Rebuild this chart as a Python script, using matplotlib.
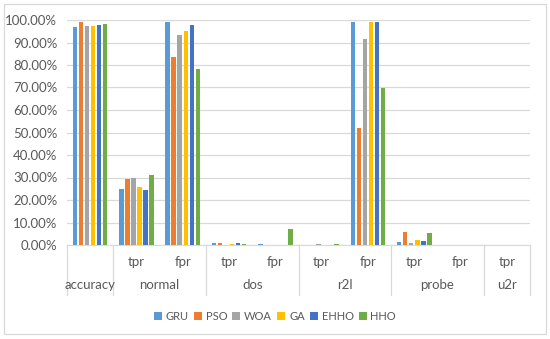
#!/usr/bin/env python3
# -*- coding: utf-8 -*-
"""Grouped bar chart of detection rates per attack class and optimiser."""

from matplotlib import pyplot as plt
from matplotlib.patches import Rectangle
from matplotlib.ticker import PercentFormatter
import numpy as np

# x cells: (sub label, group label)
sub_labels = ['', 'tpr', 'fpr', 'tpr', 'fpr', 'tpr', 'fpr', 'tpr', 'fpr', 'tpr']
groups = ['accuracy', 'normal', 'dos', 'r2l', 'probe', 'u2r']
group_spans = [(0, 0), (1, 2), (3, 4), (5, 6), (7, 8), (9, 9)]

series = ['GRU', 'PSO', 'WOA', 'GA', 'EHHO', 'HHO']
colors = ['#5B9BD5', '#ED7D31', '#A5A5A5', '#FFC000', '#4472C4', '#70AD47']

gru = [0.967, 0.249, 0.991, 0.007, 0.003, 0.000, 0.993, 0.015, 0.0, 0.0]
pso = [0.991, 0.293, 0.834, 0.007, 0.000, 0.000, 0.521, 0.056, 0.0, 0.0]
woa = [0.973, 0.298, 0.933, 0.000, 0.000, 0.003, 0.914, 0.010, 0.0, 0.0]
ga = [0.973, 0.258, 0.953, 0.006, 0.000, 0.000, 0.993, 0.022, 0.0, 0.0]
ehho = [0.978, 0.243, 0.976, 0.008, 0.000, 0.000, 0.993, 0.018, 0.0, 0.0]
hho = [0.982, 0.310, 0.781, 0.003, 0.070, 0.003, 0.696, 0.053, 0.0, 0.0]
values = [gru, pso, woa, ga, ehho, hho]


def main():
    plt.rcParams['font.family'] = ['Lato', 'DejaVu Sans']
    fig = plt.figure(figsize=(5.5, 3.39), dpi=100)
    ax = fig.add_axes([67 / 550, 1 - 245 / 339, 463 / 550, 225 / 339])

    x = np.arange(len(sub_labels))
    pitch = 0.13
    width = 0.097
    for i, (name, vals) in enumerate(zip(series, values)):
        ax.bar(x + (i - 2.5) * pitch, vals, width, color=colors[i],
               label=name, zorder=3)

    ax.set_xlim(-0.5, len(sub_labels) - 0.5)
    ax.set_ylim(0, 1)
    ax.set_yticks(np.arange(0, 1.01, 0.1))
    ax.yaxis.set_major_formatter(PercentFormatter(1.0, decimals=2))
    ax.tick_params(axis='y', length=0, labelsize=9.5, colors='#595959', pad=7)
    ax.set_xticks([])
    ax.grid(axis='y', color='#D9D9D9', linewidth=0.9, zorder=0)
    for side in ['top', 'right', 'left']:
        ax.spines[side].set_visible(False)
    ax.spines['bottom'].set_color('#D9D9D9')

    # two-level category axis
    trans = ax.get_xaxis_transform()
    for xi, lab in zip(x, sub_labels):
        if lab:
            ax.text(xi, -0.076, lab, transform=trans, ha='center', va='center',
                    fontsize=9.5, color='#595959')
    for name, (a, b) in zip(groups, group_spans):
        ax.text((a + b) / 2, -0.178, name, transform=trans, ha='center',
                va='center', fontsize=9.5, color='#595959')
    for xs in [-0.5, 0.5, 2.5, 4.5, 6.5, 8.5, 9.5]:
        ax.plot([xs, xs], [0, -0.222], transform=trans, color='#D9D9D9',
                linewidth=0.9, clip_on=False)

    fig.legend(loc='center', bbox_to_anchor=(0.5, 1 - 316 / 339), ncol=6,
               frameon=False, fontsize=8, handlelength=0.72,
               handleheight=0.72, handletextpad=0.35, columnspacing=0.45,
               labelcolor='#595959')

    fig.patches.append(Rectangle((4 / 550, 5 / 339), 542 / 550, 330 / 339,
                                 transform=fig.transFigure, fill=False,
                                 edgecolor='#D9D9D9', linewidth=0.9))
    fig.savefig('out.png', dpi=100)


if __name__ == "__main__":
    main()
